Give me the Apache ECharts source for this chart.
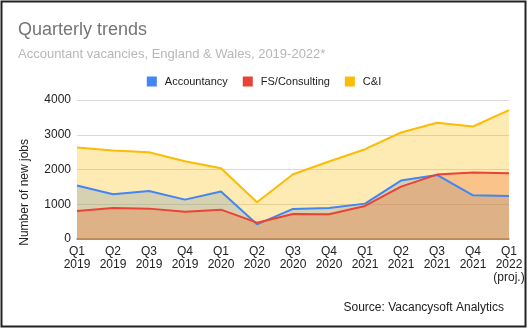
<!DOCTYPE html>
<html><head><meta charset="utf-8">
<script src="https://cdn.jsdelivr.net/npm/echarts@6/dist/echarts.min.js"></script>
<style>html,body{margin:0;padding:0;background:#fff}#c{width:528px;height:329px}</style>
</head><body><div id="c"></div>
<script>
const categories = ['Q1\n2019','Q2\n2019','Q3\n2019','Q4\n2019','Q1\n2020','Q2\n2020','Q3\n2020','Q4\n2020','Q1\n2021','Q2\n2021','Q3\n2021','Q4\n2021','Q1\n2022\n(proj.)'];
const accountancy = [1537,1287,1383,1133,1364,423,865,893,1018,1681,1844,1258,1239];
const fsConsulting = [807,893,874,787,845,470,720,711,951,1508,1854,1912,1893];
const cAndI = [2631,2545,2498,2238,2036,1057,1864,2229,2584,3064,3343,3237,3709];
const yTicks = [0,1000,2000,3000,4000];

const chart = echarts.init(document.getElementById('c'), null, {renderer:'canvas'});
const font = 'Liberation Sans, Arial, sans-serif';
function s(name, data, color){
  return {name, type:'line', data, symbol:'none', lineStyle:{color, width:2}, itemStyle:{color},
    areaStyle:{color, opacity:0.3}, z:2};
}
chart.setOption({
  animation:false,
  textStyle:{fontFamily:font},
  title:[
    {text:'Quarterly trends', left:13, top:16, textStyle:{fontFamily:font, fontSize:18, fontWeight:'normal', color:'#757575'}},
    {text:'Accountant vacancies, England & Wales, 2019-2022*', left:13, top:43, textStyle:{fontFamily:font, fontSize:13, fontWeight:'normal', color:'#b7b7b7'}},
    {text:'Source: Vacancysoft Analytics', right:19, top:297, textStyle:{fontFamily:font, fontSize:12, fontWeight:'normal', color:'#222'}}
  ],
  legend:{top:71, left:'center', itemWidth:10, itemHeight:10, itemGap:15, icon:'rect',
    textStyle:{fontFamily:font, fontSize:11, color:'#222', padding:[0,0,0,3]},
    data:['Accountancy','FS/Consulting','C&I']},
  grid:{left:77, right:19, top:100, bottom:90},
  xAxis:{type:'category', boundaryGap:false, data:categories,
    axisLine:{lineStyle:{color:'#8c7a66', width:1.5}}, axisTick:{show:false},
    axisLabel:{fontFamily:font, fontSize:12, color:'#222', lineHeight:13, margin:6, interval:0}},
  yAxis:{type:'value', min:0, max:4000, interval:1000,
    axisLine:{show:false}, axisTick:{show:false},
    splitLine:{lineStyle:{color:'#d9d9d9'}},
    axisLabel:{fontFamily:font, fontSize:12, color:'#222', margin:6,
      formatter:v=>yTicks.includes(v)?String(v):''}},
  graphic:[
    {type:'text', left:19, top:139, rotation:Math.PI/2, style:{text:'Number of new jobs', font:'12px '+font, fill:'#222'}},
    {type:'rect', shape:{x:1.5, y:1.5, width:524, height:325}, style:{fill:'none', stroke:'#222', lineWidth:2}, z:100}
  ],
  series:[
    s('Accountancy', accountancy, '#4285F4'),
    s('FS/Consulting', fsConsulting, '#EA4335'),
    s('C&I', cAndI, '#FBBC04')
  ]
});
</script></body></html>
